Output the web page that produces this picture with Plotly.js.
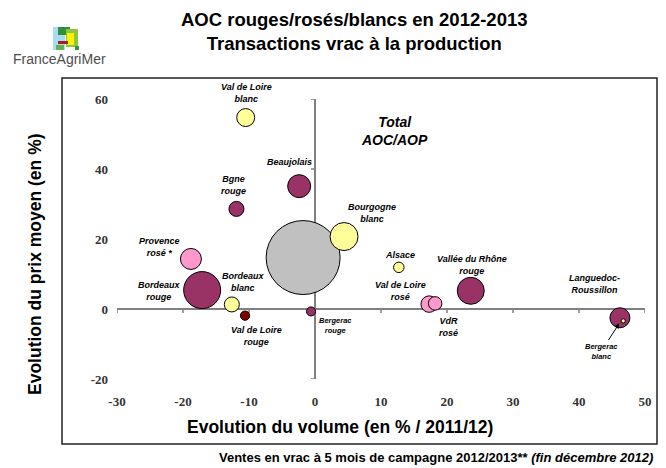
<!DOCTYPE html>
<html>
<head>
<meta charset="utf-8">
<script src="https://cdn.plot.ly/plotly-3.0.1.min.js"></script>
<style>
  html, body { margin: 0; padding: 0; background: #ffffff; }
  #chart { width: 666px; height: 468px; }
</style>
</head>
<body>
<div id="chart"></div>
<script>
// ---------- data ----------
const regions = ['Total AOC/AOP', 'Val de Loire blanc', 'Beaujolais', 'Bgne rouge', 'Bourgogne blanc',
  'Provence rosé *', 'Bordeaux rouge', 'Bordeaux blanc', 'Val de Loire rouge', 'Bergerac rouge',
  'Alsace', 'Val de Loire rosé', 'VdR rosé', 'Vallée du Rhône rouge', 'Languedoc-Roussillon', 'Bergerac blanc'];
const volumeChange = [-1.8, -10.5, -2.4, -11.9, 4.4, -18.8, -17.1, -12.6, -10.6, -0.6, 12.7, 17.3, 18.2, 23.6, 46.2, 46.7];
const priceChange  = [14.7, 54.7, 35.1, 28.6, 20.7, 14.3, 5.4, 1.3, -1.9, -0.7, 11.9, 1.4, 1.6, 5.2, -2.5, -3.4];
const volumeWeight = [5476, 324, 529, 225, 784, 441, 1369, 225, 86, 81, 110, 272, 182, 729, 400, 18];
const wineType = ['total', 'blanc', 'rouge', 'rouge', 'blanc', 'rosé', 'rouge', 'blanc', 'rouge VdL', 'rouge',
  'blanc', 'rosé', 'rosé', 'rouge', 'rouge', 'blanc'];
const xTicks = [-30, -20, -10, 0, 10, 20, 30, 40, 50];
const yTicks = [-20, 0, 20, 40, 60];

// ---------- styles / layout helpers ----------
const typeColor = { 'total': '#C0C0C0', 'blanc': '#FFFF99', 'rouge': '#993366', 'rosé': '#FF99CC', 'rouge VdL': '#800000' };

const W = 666, H = 468, L = 117, R = 21, T = 99, B = 89;
const PW = W - L - R, PH = H - T - B;
const px = v => (v - L) / PW;          // pixel x -> paper x
const py = v => (H - B - v) / PH;      // pixel y -> paper y

// label placement (data coordinates, [x, y, pixel shift y]) and label text
const labelText = ['<i>Total</i><br><i>AOC/AOP</i>', 'Val de Loire<br>blanc', 'Beaujolais', 'Bgne<br>rouge', 'Bourgogne<br>blanc',
  'Provence<br>rosé *', 'Bordeaux<br>rouge', 'Bordeaux<br>blanc', 'Val de Loire<br>rouge', 'Bergerac<br>rouge',
  'Alsace', 'Val de Loire<br>rosé', 'VdR<br>rosé', 'Vallée du Rhône<br>rouge', 'Languedoc-<br>Roussillon', 'Bergerac<br>blanc'];
const labelPos = [[12.1, 50.9, 0], [-10.45, 59.9, 6], [-3.8, 41.9, 0], [-12.4, 35.4, 0], [8.6, 27.4, 0],
  [-23.5, 17.7, 0], [-23.6, 5.1, 0], [-10.9, 7.7, 0], [-8.8, -7.6, 0], [3.1, -4.6, 0],
  [12.9, 15.4, 0], [12.9, 5.1, 0], [20.2, -5.1, 0], [23.8, 12.6, 0], [42.4, 7.1, 0], [43.4, -12.0, 0]];
const labelSize = [14, 9, 9, 9, 9, 9, 9, 9, 9, 7.5, 9, 9, 9, 9, 9, 7.5];

const trace = {
  type: 'scatter',
  mode: 'markers',
  x: volumeChange,
  y: priceChange,
  text: regions,
  hoverinfo: 'text',
  cliponaxis: false,
  marker: {
    size: volumeWeight,
    sizemode: 'area',
    sizeref: 2,
    color: wineType.map(t => typeColor[t]),
    opacity: 1,
    line: { color: '#000000', width: 1 }
  }
};

const annotations = [];
regions.forEach((r, i) => {
  const f = { family: 'Liberation Sans, Arial, sans-serif', size: labelSize[i], color: '#000000', weight: 'bold', style: 'italic' };
  if (r === 'Bergerac blanc') {
    annotations.push({
      x: 46.1, y: -4.1, xref: 'x', yref: 'y',
      ax: labelPos[i][0], ay: labelPos[i][1], axref: 'x', ayref: 'y',
      text: labelText[i], showarrow: true, arrowhead: 2, arrowsize: 1, arrowwidth: 1, arrowcolor: '#000000',
      font: f, align: 'center'
    });
  } else {
    annotations.push({
      x: labelPos[i][0], y: labelPos[i][1], yshift: labelPos[i][2], xref: 'x', yref: 'y',
      text: labelText[i], showarrow: false, font: f, align: 'center'
    });
  }
});

// main title
annotations.push({
  xref: 'paper', yref: 'paper', x: px(354), y: py(31.5), xanchor: 'center', yanchor: 'middle',
  text: 'AOC rouges/rosés/blancs en 2012-2013<br>Transactions vrac à la production', showarrow: false,
  font: { family: 'Liberation Sans, Arial, sans-serif', size: 18.5, color: '#000000', weight: 'bold' }
});
// axis titles
annotations.push({
  xref: 'paper', yref: 'paper', x: px(339.5), y: py(427), xanchor: 'center', yanchor: 'middle',
  text: 'Evolution du volume (en % / 2011/12)', showarrow: false,
  font: { family: 'Liberation Sans, Arial, sans-serif', size: 17.5, color: '#000000', weight: 'bold' }
});
annotations.push({
  xref: 'paper', yref: 'paper', x: px(35), y: py(264), xanchor: 'center', yanchor: 'middle', textangle: -90,
  text: 'Evolution du prix moyen (en %)', showarrow: false,
  font: { family: 'Liberation Sans, Arial, sans-serif', size: 17.5, color: '#000000', weight: 'bold' }
});
// footnote
annotations.push({
  xref: 'paper', yref: 'paper', x: px(655), y: py(458), xanchor: 'right', yanchor: 'middle',
  text: 'Ventes en vrac à 5 mois de campagne 2012/2013** <i>(fin décembre 2012)</i>', showarrow: false,
  font: { family: 'Liberation Sans, Arial, sans-serif', size: 13, color: '#000000', weight: 'bold' }
});
// logo text
annotations.push({
  xref: 'paper', yref: 'paper', x: px(59), y: py(58.5), xanchor: 'center', yanchor: 'middle',
  text: 'FranceAgriMer', showarrow: false,
  font: { family: 'Liberation Sans, Arial, sans-serif', size: 14, color: '#4d4d4d' }
});

const shapes = [];
// outer chart-area frame
shapes.push({ type: 'rect', xref: 'paper', yref: 'paper', x0: px(62), x1: px(657), y0: py(444), y1: py(78),
  line: { color: '#222222', width: 1.5 }, layer: 'below' });
// tick marks on the crossing axes
xTicks.forEach(t => shapes.push({ type: 'line', xref: 'x', yref: 'y', ysizemode: 'pixel', yanchor: 0,
  x0: t, x1: t, y0: 0, y1: -4, line: { color: '#808080', width: 1.5 }, layer: 'below' }));
yTicks.forEach(t => shapes.push({ type: 'line', xref: 'x', yref: 'y', xsizemode: 'pixel', xanchor: 0,
  x0: 0, x1: -4, y0: t, y1: t, line: { color: '#808080', width: 1.5 }, layer: 'below' }));
// logo icon
const logoRects = [
  [53, 27, 65, 50, '#a8dcf2'], [58, 27, 70, 35, '#2f8f3a'], [66, 29, 78, 47, '#8cc63f'],
  [67, 33, 74, 45, '#fff200'], [58, 41, 68, 44, '#a3201f'], [56, 45, 64, 50, '#6ab04c'], [75, 46, 79, 50, '#2f9a3a']
];
logoRects.forEach(r => shapes.push({ type: 'rect', xref: 'paper', yref: 'paper',
  x0: px(r[0]), x1: px(r[2]), y0: py(r[3]), y1: py(r[1]), fillcolor: r[4], line: { width: 0 }, layer: 'above' }));

const tickFont = { family: '"Liberation Serif", "Times New Roman", serif', size: 13, color: '#333333', weight: 'bold' };

const layout = {
  width: W, height: H,
  margin: { l: L, r: R, t: T, b: B, pad: 0 },
  paper_bgcolor: '#ffffff', plot_bgcolor: '#ffffff',
  showlegend: false,
  xaxis: {
    range: [-30, 50], tickvals: xTicks, ticktext: xTicks.map(String), showgrid: false,
    zeroline: true, zerolinecolor: '#808080', zerolinewidth: 1.5, showline: false, ticks: '',
    tickfont: tickFont, ticklabelstandoff: 13, fixedrange: true
  },
  yaxis: {
    range: [-20, 60], tickvals: yTicks, ticktext: yTicks.map(String), showgrid: false,
    zeroline: true, zerolinecolor: '#808080', zerolinewidth: 1.5, showline: false, ticks: '',
    tickfont: tickFont, ticklabelstandoff: 8, fixedrange: true
  },
  annotations: annotations,
  shapes: shapes
};

Plotly.newPlot('chart', [trace], layout, { displayModeBar: false, staticPlot: true });
</script>
</body>
</html>
